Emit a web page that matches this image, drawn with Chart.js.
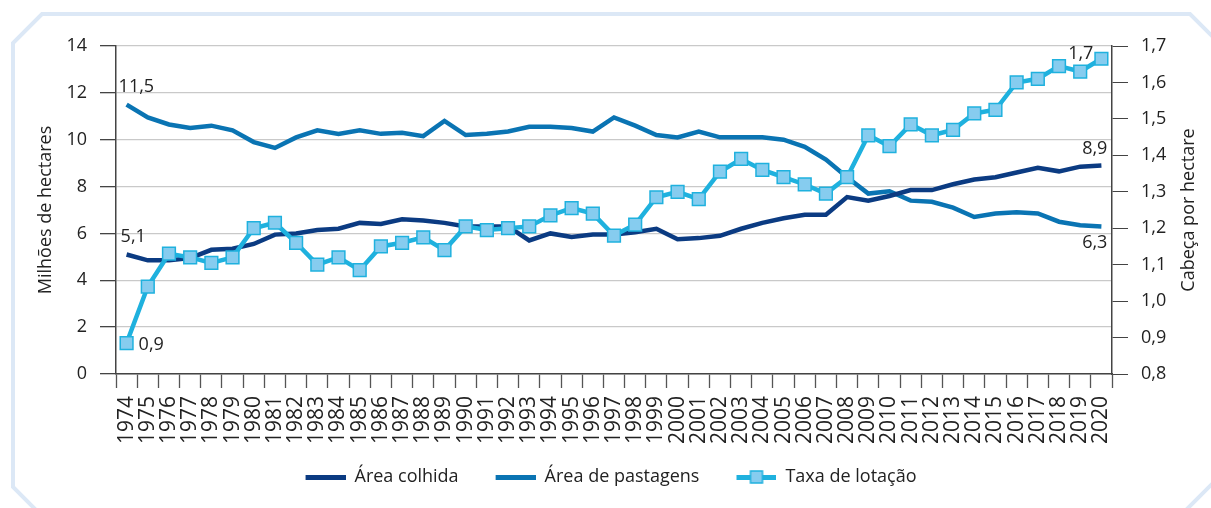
<!DOCTYPE html>
<html>
<head>
<meta charset="utf-8">
<script src="https://cdn.jsdelivr.net/npm/chart.js@4.4.0/dist/chart.umd.min.js"></script>
<style>
  html, body { margin: 0; padding: 0; background: #fff; }
  #wrap { width: 1211px; height: 508px; position: relative; }
</style>
</head>
<body>
<div id="wrap"><canvas id="myChart"></canvas></div>
<script>
const years = [
  '1974', '1975', '1976', '1977', '1978', '1979', '1980', '1981', '1982', '1983',
  '1984', '1985', '1986', '1987', '1988', '1989', '1990', '1991', '1992', '1993',
  '1994', '1995', '1996', '1997', '1998', '1999', '2000', '2001', '2002', '2003',
  '2004', '2005', '2006', '2007', '2008', '2009', '2010', '2011', '2012', '2013',
  '2014', '2015', '2016', '2017', '2018', '2019', '2020',
];

// milhões de hectares
const areaColhida = [
  5.1, 4.85, 4.85, 4.95, 5.3, 5.35, 5.55, 5.95, 6.0, 6.15,
  6.2, 6.45, 6.4, 6.6, 6.55, 6.45, 6.3, 6.3, 6.3, 5.7,
  6.0, 5.85, 5.95, 5.95, 6.05, 6.2, 5.75, 5.8, 5.9, 6.2,
  6.45, 6.65, 6.8, 6.8, 7.55, 7.4, 7.6, 7.85, 7.85, 8.1,
  8.3, 8.4, 8.6, 8.8, 8.65, 8.85, 8.9,
];

const areaPastagens = [
  11.5, 10.95, 10.65, 10.5, 10.6, 10.4, 9.9, 9.65, 10.1, 10.4,
  10.25, 10.4, 10.25, 10.3, 10.15, 10.8, 10.2, 10.25, 10.35, 10.55,
  10.55, 10.5, 10.35, 10.95, 10.6, 10.2, 10.1, 10.35, 10.1, 10.1,
  10.1, 10.0, 9.7, 9.15, 8.4, 7.7, 7.8, 7.4, 7.35, 7.1,
  6.7, 6.85, 6.9, 6.85, 6.5, 6.35, 6.3,
];

// cabeça por hectare (eixo direito)
const taxaLotacao = [
  0.885, 1.04, 1.13, 1.12, 1.105, 1.12, 1.20, 1.215, 1.16, 1.10,
  1.12, 1.085, 1.15, 1.16, 1.175, 1.14, 1.205, 1.195, 1.20, 1.205,
  1.235, 1.255, 1.24, 1.18, 1.21, 1.285, 1.30, 1.28, 1.355, 1.39,
  1.36, 1.34, 1.32, 1.295, 1.34, 1.455, 1.425, 1.485, 1.455, 1.47,
  1.515, 1.525, 1.60, 1.61, 1.645, 1.63, 1.665,
];

const seriesNames = ['Área colhida', 'Área de pastagens', 'Taxa de lotação'];

const NAVY = '#0b3b82';
const BLUE = '#0a74b3';
const CYAN = '#1fb1de';
const CYAN_FILL = '#86ccef';
const FONT = "'Open Sans', sans-serif";

// legend icons: 27px of blank space on the left acts as the gap between items
function lineIcon(color, withBox) {
  const c = document.createElement('canvas');
  c.width = 67;
  c.height = 14;
  const g = c.getContext('2d');
  g.fillStyle = color;
  g.fillRect(27, 5, 40, 5);
  if (withBox) {
    g.fillStyle = CYAN_FILL;
    g.fillRect(41, 1, 12, 12);
    g.strokeStyle = CYAN;
    g.lineWidth = 1.5;
    g.strokeRect(41, 1, 12, 12);
  }
  return c;
}
const legendIcons = [lineIcon(NAVY, false), lineIcon(BLUE, false), lineIcon(CYAN, true)];

const fmt = (v) => v.toFixed(1).replace('.', ',');

const framePlugin = {
  id: 'frame',
  afterLayout(chart) {
    // nudge the legend row a bit to the left
    chart.legend.left -= 8;
    chart.legend.right -= 8;
  },
  beforeDraw(chart) {
    const ctx = chart.ctx;
    ctx.save();
    ctx.strokeStyle = '#dce8f6';
    ctx.lineWidth = 4;
    ctx.beginPath();
    ctx.moveTo(36, 510);
    ctx.lineTo(13, 487);
    ctx.lineTo(13, 43);
    ctx.lineTo(42, 14);
    ctx.lineTo(1190, 14);
    ctx.lineTo(1213, 37);
    ctx.moveTo(1186, 510);
    ctx.lineTo(1213, 483);
    ctx.stroke();
    ctx.restore();
  }
};

const valueLabels = {
  id: 'valueLabels',
  afterDatasetsDraw(chart) {
    const ctx = chart.ctx;
    const last = years.length - 1;
    const p = (d, i) => chart.getDatasetMeta(d).data[i];
    ctx.save();
    ctx.font = '18px ' + FONT;
    ctx.fillStyle = '#222';
    ctx.textBaseline = 'middle';

    ctx.textAlign = 'left';
    let q = p(1, 0);
    ctx.fillText(fmt(areaPastagens[0]), q.x - 8, q.y - 18);
    q = p(0, 0);
    ctx.fillText(fmt(areaColhida[0]), q.x - 6, q.y - 18);
    q = p(2, 0);
    ctx.fillText(fmt(taxaLotacao[0]), q.x + 12, q.y + 2);

    ctx.textAlign = 'right';
    q = p(0, last);
    ctx.fillText(fmt(areaColhida[last]), q.x + 6, q.y - 17);
    q = p(1, last);
    ctx.fillText(fmt(areaPastagens[last]), q.x + 6, q.y + 16);
    q = p(2, last);
    ctx.fillText(fmt(taxaLotacao[last]), q.x - 8, q.y - 5);
    ctx.restore();
  },
  afterDraw(chart) {
    // right axis title reads bottom to top
    const ctx = chart.ctx;
    const a = chart.chartArea;
    ctx.save();
    ctx.translate(1189, (a.top + a.bottom) / 2);
    ctx.rotate(-Math.PI / 2);
    ctx.font = '18px ' + FONT;
    ctx.fillStyle = '#222';
    ctx.textAlign = 'center';
    ctx.textBaseline = 'middle';
    ctx.fillText('Cabeça por hectare', 0, 0);
    ctx.restore();
  }
};

const data = {
  labels: years,
  datasets: [{
    label: seriesNames[0],
    data: areaColhida,
    borderColor: NAVY,
    borderWidth: 4.5,
    pointRadius: 0,
    yAxisID: 'y',
    order: 2,
  }, {
    label: seriesNames[1],
    data: areaPastagens,
    borderColor: BLUE,
    borderWidth: 4.5,
    pointRadius: 0,
    yAxisID: 'y',
    order: 3,
  }, {
    label: seriesNames[2],
    data: taxaLotacao,
    borderColor: CYAN,
    borderWidth: 4.5,
    pointStyle: 'rect',
    pointRadius: 9,
    pointBackgroundColor: CYAN_FILL,
    pointBorderColor: CYAN,
    pointBorderWidth: 1.5,
    yAxisID: 'y1',
    order: 1,
  }]
};

const config = {
  type: 'line',
  data: data,
  plugins: [framePlugin, valueLabels],
  options: {
    responsive: true,
    maintainAspectRatio: false,
    animation: false,
    devicePixelRatio: 1,
    layout: { padding: { top: 46, left: 0, right: 0, bottom: 12 } },
    elements: { line: { tension: 0 } },
    scales: {
      x: {
        offset: true,
        grid: {
          offset: true,
          drawOnChartArea: false,
          tickLength: 14,
          tickColor: '#555',
          tickWidth: 1.3,
        },
        border: { color: '#444', width: 1.5 },
        ticks: {
          minRotation: 90,
          maxRotation: 90,
          autoSkip: false,
          padding: 8,
          color: '#222',
          font: { family: FONT, size: 21 },
        },
        afterFit(s) { s.height = 84; },
      },
      y: {
        position: 'left',
        min: 0,
        max: 14,
        ticks: {
          stepSize: 2,
          padding: 13,
          color: '#222',
          font: { family: FONT, size: 18 },
        },
        grid: {
          color: '#c9c9c9',
          lineWidth: 1.3,
          tickLength: 16,
          tickColor: '#444',
        },
        border: { color: '#444', width: 1.5 },
        title: {
          display: true,
          text: 'Milhões de hectares',
          color: '#222',
          font: { family: FONT, size: 18 },
          padding: { top: 35, bottom: 0 },
        },
        afterFit(s) { s.width = 116; },
      },
      y1: {
        position: 'right',
        min: 0.8,
        max: 1.7,
        ticks: {
          stepSize: 0.1,
          padding: 13,
          color: '#222',
          font: { family: FONT, size: 18 },
          callback: (v) => fmt(v),
        },
        grid: {
          drawOnChartArea: false,
          tickLength: 16,
          tickColor: '#444',
        },
        border: { color: '#444', width: 1.5 },
        afterFit(s) { s.width = 99; },
      },
    },
    plugins: {
      tooltip: { enabled: false },
      legend: {
        position: 'bottom',
        labels: {
          usePointStyle: true,
          pointStyleWidth: 67,
          padding: 10,
          color: '#222',
          font: { family: FONT, size: 18 },
          generateLabels: (chart) => chart.data.datasets.map((ds, i) => ({
            text: ds.label,
            pointStyle: legendIcons[i],
            datasetIndex: i,
            hidden: false,
            fontColor: '#222',
            lineWidth: 0,
          })),
        },
      },
    },
  },
};

const myChart = new Chart(document.getElementById('myChart'), config);
</script>
</body>
</html>
